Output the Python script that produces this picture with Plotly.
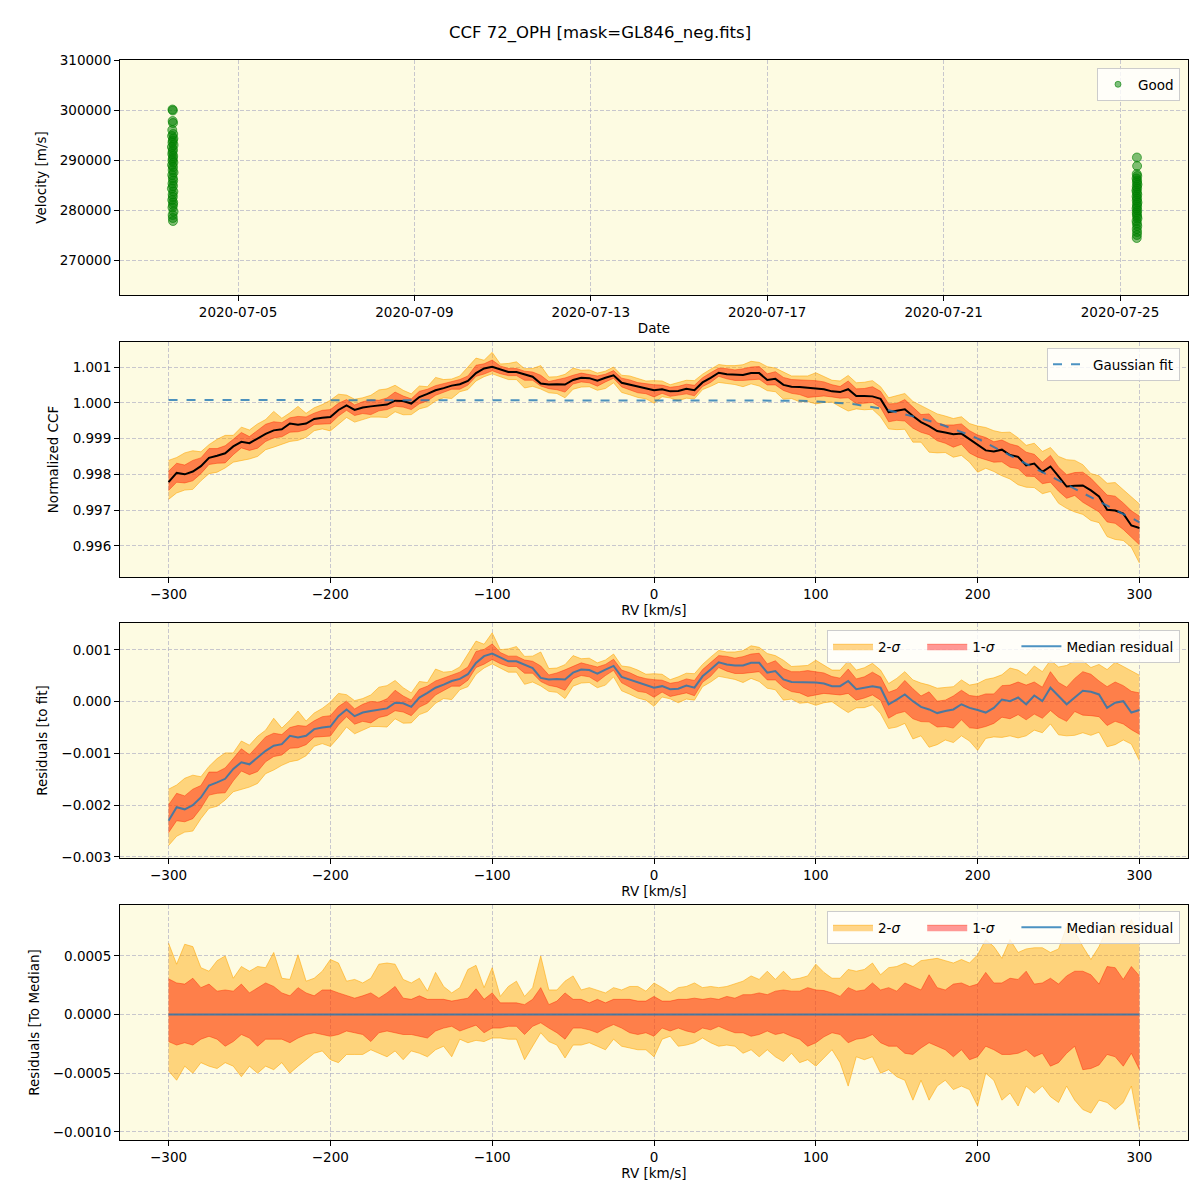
import numpy as np
import pandas as pd
import plotly.graph_objects as go

# ---------------- data ----------------
rv = list(range(-300, 305, 5))

# median residual to fit (units 1e-3)
resid_med_e3 = [
    -2.30, -2.04, -2.08, -2.00, -1.85, -1.62, -1.56, -1.49, -1.30, -1.17,
    -1.21, -1.08, -0.95, -0.85, -0.82, -0.66, -0.69, -0.66, -0.53, -0.50,
    -0.48, -0.28, -0.15, -0.28, -0.21, -0.18, -0.15, -0.13, -0.02, -0.03,
    -0.10, 0.08, 0.17, 0.27, 0.33, 0.40, 0.44, 0.53, 0.75, 0.88,
    0.93, 0.85, 0.78, 0.78, 0.72, 0.65, 0.46, 0.43, 0.44, 0.43,
    0.56, 0.62, 0.61, 0.54, 0.62, 0.69, 0.48, 0.43, 0.37, 0.33,
    0.27, 0.30, 0.24, 0.25, 0.31, 0.27, 0.49, 0.62, 0.76, 0.72,
    0.70, 0.70, 0.75, 0.75, 0.56, 0.59, 0.43, 0.38, 0.38, 0.37,
    0.37, 0.35, 0.30, 0.30, 0.40, 0.24, 0.27, 0.30, 0.27, -0.05,
    0.04, 0.14, 0.01, -0.10, -0.15, -0.22, -0.18, -0.15, -0.05, -0.12,
    -0.16, -0.21, -0.12, 0.04, 0.01, 0.08, -0.05, 0.12, 0.01, 0.27,
    0.11, -0.05, 0.08, 0.21, 0.19, 0.14, -0.12, -0.02, 0.01, -0.21,
    -0.16,
]

# Gaussian fit values
gauss_fit = [
    1.00008, 1.00008, 1.00008, 1.00008, 1.00008, 1.00008, 1.00008, 1.00008, 1.00008, 1.00008,
    1.00008, 1.00008, 1.00008, 1.00008, 1.00008, 1.00008, 1.00008, 1.00008, 1.00008, 1.00008,
    1.00008, 1.00008, 1.00008, 1.00008, 1.00008, 1.00008, 1.00008, 1.00008, 1.00008, 1.00008,
    1.00008, 1.00008, 1.00008, 1.00008, 1.00008, 1.00008, 1.00008, 1.00008, 1.00008, 1.00008,
    1.00008, 1.00008, 1.00008, 1.00008, 1.00008, 1.00008, 1.00008, 1.00008, 1.00008, 1.00008,
    1.00008, 1.00008, 1.00008, 1.00008, 1.00008, 1.00008, 1.00008, 1.00008, 1.00008, 1.00008,
    1.00008, 1.00008, 1.00008, 1.00008, 1.00008, 1.00008, 1.00008, 1.00008, 1.00008, 1.00008,
    1.00008, 1.00008, 1.00008, 1.00008, 1.00008, 1.00008, 1.00007, 1.00007, 1.00006, 1.00005,
    1.00004, 1.00003, 1.00002, 1.00000, 0.99998, 0.99995, 0.99992, 0.99988, 0.99984, 0.99979,
    0.99974, 0.99968, 0.99962, 0.99956, 0.99950, 0.99943, 0.99935, 0.99927, 0.99919, 0.99910,
    0.99900, 0.99888, 0.99876, 0.99865, 0.99853, 0.99841, 0.99830, 0.99818, 0.99806, 0.99795,
    0.99783, 0.99771, 0.99760, 0.99748, 0.99736, 0.99724, 0.99713, 0.99701, 0.99689, 0.99678,
    0.99666,
]

# band offsets from the median (units 1e-4)
up2_e4 = [
    6.1, 4.3, 6.0, 5.8, 4.0, 3.7, 4.6, 5.0, 3.1, 4.1,
    3.7, 4.1, 4.0, 5.3, 3.1, 3.0, 5.1, 2.85, 3.1, 3.7,
    4.7, 4.4, 2.85, 3.0, 2.7, 3.1, 4.3, 4.4, 4.3, 3.0,
    2.7, 3.1, 2.0, 3.6, 2.4, 1.85, 2.3, 3.85, 4.2, 2.3,
    4.0, 1.55, 2.4, 2.85, 1.55, 2.3, 5.0, 2.1, 2.1, 2.85,
    3.3, 2.1, 2.3, 2.1, 1.85, 2.3, 2.1, 2.4, 2.4, 2.0,
    2.7, 2.3, 1.85, 2.3, 2.4, 2.7, 2.3, 2.4, 2.3, 2.4,
    2.6, 2.85, 3.3, 3.0, 3.7, 3.0, 3.7, 3.0, 3.1, 3.3,
    4.3, 3.6, 3.1, 3.1, 3.85, 3.7, 3.85, 4.4, 3.4, 4.0,
    4.1, 4.4, 4.1, 4.6, 4.7, 4.8, 4.6, 4.4, 4.7, 4.4,
    5.1, 6.4, 5.8, 4.8, 6.4, 5.3, 5.6, 5.7, 5.7, 5.3,
    5.6, 7.5, 7.1, 5.8, 4.7, 5.8, 7.4, 7.8, 6.7, 8.1,
    6.7,
]
up1_e4 = [
    3.05, 2.7, 2.6, 3.1, 2.3, 2.6, 2.0, 2.1, 2.0, 2.6,
    1.85, 2.3, 2.7, 2.4, 1.85, 1.6, 2.3, 1.85, 1.6, 2.1,
    2.1, 1.85, 1.6, 1.4, 1.6, 1.85, 1.4, 1.85, 2.4, 1.4,
    1.3, 1.6, 1.3, 1.3, 1.3, 1.15, 1.3, 1.4, 2.2, 1.3,
    1.85, 1.0, 1.0, 1.0, 0.85, 1.3, 2.3, 0.85, 1.15, 1.85,
    1.3, 1.3, 1.0, 1.3, 1.0, 1.3, 1.3, 1.3, 1.15, 1.15,
    1.55, 1.15, 1.15, 1.3, 1.3, 1.4, 1.3, 1.4, 1.3, 1.55,
    1.4, 1.7, 1.7, 1.85, 1.7, 2.0, 2.1, 2.0, 2.0, 2.3,
    2.1, 2.05, 1.85, 1.55, 2.3, 2.0, 2.1, 2.7, 2.1, 2.3,
    2.0, 2.7, 2.4, 2.1, 3.4, 2.3, 2.1, 2.6, 2.7, 2.4,
    2.6, 3.6, 2.7, 2.7, 3.1, 3.0, 3.7, 2.6, 2.7, 3.1,
    2.6, 3.3, 3.7, 3.7, 3.4, 2.6, 4.1, 4.0, 3.0, 4.1,
    3.3,
]
lo1_e4 = [
    -2.3, -2.6, -2.4, -2.6, -2.1, -1.85, -2.1, -2.7, -2.3, -1.7,
    -2.0, -2.7, -2.1, -2.1, -2.1, -2.4, -2.0, -1.7, -1.55, -1.7,
    -1.85, -1.7, -1.4, -1.55, -1.7, -2.3, -1.55, -1.4, -1.55, -1.7,
    -1.7, -1.85, -2.0, -1.4, -1.15, -1.0, -1.4, -1.15, -0.9, -1.55,
    -1.15, -1.15, -1.0, -1.0, -1.7, -1.0, -0.7, -1.15, -1.55, -2.1,
    -1.15, -1.15, -1.3, -1.55, -1.15, -0.85, -1.15, -1.55, -1.7, -1.55,
    -1.85, -1.15, -1.4, -1.15, -1.4, -1.55, -1.15, -1.3, -1.0, -1.3,
    -1.55, -1.55, -1.85, -1.7, -1.4, -1.7, -1.55, -1.85, -2.1, -2.7,
    -2.4, -1.9, -1.55, -1.7, -2.4, -2.1, -2.0, -1.7, -2.4, -2.7,
    -2.7, -3.3, -3.4, -2.85, -2.4, -2.7, -3.0, -3.6, -3.0, -3.85,
    -3.6, -2.7, -3.0, -3.4, -3.4, -3.3, -3.0, -3.6, -3.3, -4.4,
    -4.1, -3.3, -2.7, -4.7, -4.6, -4.3, -3.4, -3.6, -4.4, -3.3,
    -4.7,
]
lo2_e4 = [
    -4.8, -5.6, -4.4, -5.0, -4.1, -4.4, -4.6, -4.1, -4.4, -5.3,
    -4.4, -5.0, -4.4, -4.7, -4.1, -5.0, -4.4, -3.85, -3.3, -3.1,
    -3.85, -4.1, -3.4, -3.4, -3.4, -3.0, -3.3, -3.6, -3.1, -3.85,
    -3.1, -3.3, -3.6, -3.0, -2.7, -3.6, -2.1, -2.4, -2.2, -2.3,
    -2.0, -2.0, -2.1, -2.1, -3.85, -2.7, -1.55, -2.3, -2.6, -3.7,
    -2.6, -2.6, -2.4, -2.7, -3.0, -2.1, -2.7, -2.85, -3.0, -3.0,
    -3.6, -2.1, -1.85, -2.7, -2.6, -2.4, -2.0, -2.4, -2.7, -2.6,
    -2.7, -3.3, -3.0, -3.6, -3.0, -3.6, -4.0, -3.3, -4.1, -3.85,
    -4.4, -3.7, -3.0, -4.1, -6.1, -3.6, -3.85, -3.6, -5.0, -4.7,
    -5.3, -5.6, -7.3, -5.6, -7.3, -6.1, -5.6, -6.4, -6.1, -6.4,
    -7.8, -5.0, -5.6, -7.3, -6.7, -7.8, -6.1, -6.7, -6.1, -7.0,
    -7.5, -6.1, -7.3, -8.1, -8.4, -7.3, -7.5, -8.1, -7.5, -6.1,
    -9.8,
]

# velocities of the "Good" observations (two nights)
night1_date = "2020-07-03"
night1_hours = [12.3, 12.5, 12.4, 12.6, 12.2, 12.7, 12.1, 12.8, 12.5, 12.3,
                12.9, 12.0, 12.6, 12.4, 12.2, 12.7, 12.5, 12.3, 12.8, 12.1,
                12.6, 12.4, 12.9, 12.2, 12.5, 12.7, 12.3, 12.6, 12.0, 12.8,
                12.4, 12.5, 12.2, 12.7, 12.6, 12.3, 12.9, 12.4, 12.5, 12.6]
night1_vel = [300100, 299900, 297800, 297400, 296000, 295200, 294800, 294300, 293900, 293500,
              293000, 292600, 292100, 291700, 291200, 290800, 290300, 289900, 289500, 289000,
              288600, 288000, 287500, 287000, 286400, 285900, 285300, 284800, 284300, 283700,
              283100, 282600, 282000, 281500, 281000, 280500, 279700, 279000, 278400, 277800]
night2_date = "2020-07-25"
night2_hours = [9.2, 9.3, 9.1, 9.4, 9.0, 9.3, 9.2, 9.5, 9.1, 9.3,
                8.9, 9.2, 9.4, 9.0, 9.3, 9.1, 9.5, 9.2, 9.3, 9.0,
                9.4, 9.1, 9.2, 9.3, 9.5, 9.0, 9.2, 9.4, 9.1, 9.3,
                9.2, 9.1]
night2_vel = [290500, 288800, 287200, 286800, 286300, 285900, 285500, 285100, 284700, 284300,
              283900, 283500, 283100, 282700, 282300, 281900, 281500, 281100, 280700, 280300,
              279900, 279500, 279100, 278700, 278300, 277800, 277300, 276800, 276200, 275600,
              275000, 274400]

date_ticks = ["2020-07-05", "2020-07-09", "2020-07-13", "2020-07-17", "2020-07-21", "2020-07-25"]

# ---------------- derived ----------------
rv_a = np.array(rv, dtype=float)
fit = np.array(gauss_fit)
resid = np.array(resid_med_e3) * 1e-3
ccf = fit + resid
u2 = np.array(up2_e4) * 1e-4
u1 = np.array(up1_e4) * 1e-4
l1 = np.array(lo1_e4) * 1e-4
l2 = np.array(lo2_e4) * 1e-4

t1 = pd.Timestamp(night1_date) + pd.to_timedelta(night1_hours, unit="h")
t2 = pd.Timestamp(night2_date) + pd.to_timedelta(night2_hours, unit="h")
times = list(t1) + list(t2)
vels = night1_vel + night2_vel

# ---------------- styles ----------------
BG = "#fdfbe2"
C2 = "rgba(255,165,0,0.45)"
C2E = "rgba(255,165,0,0.55)"
C1 = "rgba(255,0,0,0.40)"
C1E = "rgba(255,40,0,0.45)"
BLUE = "rgba(31,119,180,0.8)"
GRID = "rgba(176,176,196,0.7)"
FONT = "DejaVu Sans"
PAD = "\u00a0" * 4

fig = go.Figure()

# panel 1
fig.add_trace(go.Scatter(
    x=times, y=vels, mode="markers", name="Good",
    marker=dict(color="rgba(0,128,0,0.5)", size=9,
                line=dict(color="rgba(0,128,0,0.6)", width=1)),
    xaxis="x", yaxis="y", showlegend=False))
# legend-only entry with a small marker (as in the reference legend)
fig.add_trace(go.Scatter(
    x=[None], y=[None], mode="markers", name="Good",
    marker=dict(color="rgba(0,128,0,0.5)", size=6,
                line=dict(color="rgba(0,128,0,0.6)", width=1)),
    xaxis="x", yaxis="y", legend="legend", showlegend=True))


def add_bands(center, xa, ya, leg, show):
    fig.add_trace(go.Scatter(x=rv_a, y=center + l2, mode="lines",
                             line=dict(color=C2E, width=1), showlegend=False,
                             xaxis=xa, yaxis=ya, legend=leg, hoverinfo="skip"))
    fig.add_trace(go.Scatter(x=rv_a, y=center + u2, mode="lines", fill="tonexty",
                             fillcolor=C2, line=dict(color=C2E, width=1),
                             name="2-<i>σ</i>" + PAD, showlegend=show,
                             xaxis=xa, yaxis=ya, legend=leg))
    fig.add_trace(go.Scatter(x=rv_a, y=center + l1, mode="lines",
                             line=dict(color=C1E, width=1), showlegend=False,
                             xaxis=xa, yaxis=ya, legend=leg, hoverinfo="skip"))
    fig.add_trace(go.Scatter(x=rv_a, y=center + u1, mode="lines", fill="tonexty",
                             fillcolor=C1, line=dict(color=C1E, width=1),
                             name="1-<i>σ</i>" + PAD, showlegend=show,
                             xaxis=xa, yaxis=ya, legend=leg))


# panel 2
add_bands(ccf, "x2", "y2", "legend2", False)
fig.add_trace(go.Scatter(x=rv_a, y=ccf, mode="lines", line=dict(color="black", width=2),
                         showlegend=False, xaxis="x2", yaxis="y2"))
fig.add_trace(go.Scatter(x=rv_a, y=fit, mode="lines", name="Gaussian fit",
                         line=dict(color=BLUE, width=2, dash="dash"),
                         xaxis="x2", yaxis="y2", legend="legend2", showlegend=True))

# panel 3
add_bands(resid, "x3", "y3", "legend3", True)
fig.add_trace(go.Scatter(x=rv_a, y=resid, mode="lines", name="Median residual",
                         line=dict(color=BLUE, width=2),
                         xaxis="x3", yaxis="y3", legend="legend3", showlegend=True))

# panel 4
zeros = np.zeros_like(rv_a)
add_bands(zeros, "x4", "y4", "legend4", True)
fig.add_trace(go.Scatter(x=rv_a, y=zeros, mode="lines", name="Median residual",
                         line=dict(color=BLUE, width=2),
                         xaxis="x4", yaxis="y4", legend="legend4", showlegend=True))

# ---------------- layout ----------------
# page body has an 8px margin: figure occupies 8..1200 of the window
W = 1192
OFF = 8
ML, MR, MT, MB = 120 - OFF, 12, 60 - OFF, W - (1140 - OFF)
H = W - MT - MB  # plot area height (1080)


def dom(top_px, bot_px):
    # pixel rows in window coordinates -> paper fraction
    return [(1140 - bot_px) / H, (1140 - top_px) / H]


axis_common = dict(showline=True, mirror=True, linecolor="black", linewidth=1,
                   ticks="outside", ticklen=5, tickcolor="black",
                   showgrid=True, gridcolor=GRID, griddash="4px,2px", gridwidth=1,
                   zeroline=False, tickfont=dict(size=13.5, color="black", family=FONT),
                   title_font=dict(size=13.5, color="black", family=FONT))

rv_ticks = [-300, -200, -100, 0, 100, 200, 300]

fig.update_layout(
    width=W, height=W,
    margin=dict(l=ML, r=MR, t=MT, b=MB),
    paper_bgcolor="white", plot_bgcolor=BG,
    font=dict(family=FONT, size=13, color="black"),
    title=dict(text="CCF 72_OPH [mask=GL846_neg.fits]", x=(600 - OFF) / W, xref="container",
               y=1 - (32 - OFF) / W, yref="container", xanchor="center", yanchor="middle",
               font=dict(size=16.5, color="black", family=FONT)),
    xaxis=dict(axis_common, domain=[0, 1], anchor="y", type="date",
               range=["2020-07-02 07:45", "2020-07-26 13:00"],
               tickvals=date_ticks, tickformat="%Y-%m-%d",
               title=dict(text="Date", standoff=4)),
    yaxis=dict(axis_common, domain=dom(60, 295), anchor="x",
               range=[263000, 310000], tickvals=[270000, 280000, 290000, 300000, 310000],
               tickformat="d", title=dict(text="Velocity [m/s]", standoff=10)),
    xaxis2=dict(axis_common, domain=[0, 1], anchor="y2", range=[-330, 330],
                tickvals=rv_ticks, title=dict(text="RV [km/s]", standoff=4)),
    yaxis2=dict(axis_common, domain=dom(342, 577), anchor="x2", range=[0.99513, 1.0017],
                tickvals=[0.996, 0.997, 0.998, 0.999, 1.000, 1.001], tickformat=".3f",
                title=dict(text="Normalized CCF", standoff=10)),
    xaxis3=dict(axis_common, domain=[0, 1], anchor="y3", range=[-330, 330],
                tickvals=rv_ticks, title=dict(text="RV [km/s]", standoff=4)),
    yaxis3=dict(axis_common, domain=dom(623, 858), anchor="x3", range=[-0.00302, 0.00152],
                tickvals=[-0.003, -0.002, -0.001, 0.0, 0.001], tickformat=".3f",
                title=dict(text="Residuals [to fit]", standoff=10)),
    xaxis4=dict(axis_common, domain=[0, 1], anchor="y4", range=[-330, 330],
                tickvals=rv_ticks, title=dict(text="RV [km/s]", standoff=4)),
    yaxis4=dict(axis_common, domain=dom(905, 1140), anchor="x4", range=[-0.00107, 0.000935],
                tickvals=[-0.001, -0.0005, 0.0, 0.0005], tickformat=".4f",
                title=dict(text="Residuals [To Median]", standoff=10)),
)

leg_common = dict(bgcolor="rgba(255,255,255,0.8)", bordercolor="#cccccc", borderwidth=1,
                  font=dict(size=13.5, color="black", family=FONT), traceorder="normal",
                  xanchor="right", yanchor="top", x=(1180 - 120) / 1068)
fig.update_layout(
    legend=dict(leg_common, y=(1140 - 68) / H, itemwidth=30),
    legend2=dict(leg_common, y=(1140 - 348) / H, itemwidth=35),
    legend3=dict(leg_common, y=(1140 - 630) / H, orientation="h", itemwidth=40),
    legend4=dict(leg_common, y=(1140 - 911) / H, orientation="h", itemwidth=40),
)

fig.write_html("out.html")
